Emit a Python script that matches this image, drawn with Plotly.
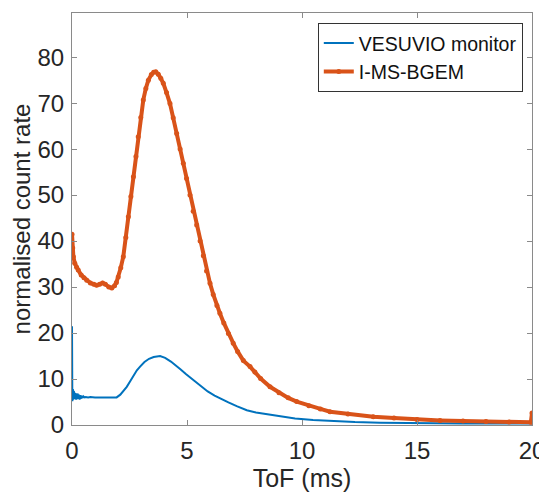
import plotly.graph_objects as go

# I-MS-BGEM (orange)
tof_bgem = [0.0, 0.03, 0.06, 0.12, 0.2, 0.27, 0.4, 0.52, 0.64, 0.8, 0.95, 1.07, 1.2, 1.33, 1.45,
            1.6, 1.73, 1.85, 1.93, 2.01, 2.12, 2.23, 2.34, 2.45, 2.56, 2.67, 2.78, 2.88, 2.99,
            3.1, 3.21, 3.32, 3.45, 3.55, 3.64, 3.75, 3.86, 3.97, 4.11, 4.26, 4.4, 4.55, 4.7,
            4.84, 4.98, 5.13, 5.27, 5.42, 5.57, 5.71, 5.85, 6.0, 6.14, 6.3, 6.43, 6.6, 6.8,
            7.01, 7.2, 7.45, 7.74, 7.95, 8.2, 8.61, 9.0, 9.4, 9.77, 10.3, 10.8, 11.22, 12.0,
            13.1, 14.0, 15.0, 16.0, 17.0, 18.0, 19.0, 19.95, 20.0]
rate_bgem = [41.5, 38.5, 36.6, 35.2, 34.3, 33.7, 32.6, 32.0, 31.5, 30.9, 30.6, 30.4, 30.6, 30.9, 30.6,
             30.0, 29.8, 30.3, 31.0, 32.2, 34.2, 36.6, 40.8, 45.3, 49.7, 54.0, 58.4, 62.7, 66.9,
             70.7, 73.2, 75.0, 76.2, 76.7, 76.8, 76.3, 75.4, 74.3, 72.3, 69.9, 66.8, 63.4, 60.0,
             56.9, 53.6, 50.0, 46.5, 43.5, 40.0, 36.8, 33.5, 30.8, 28.4, 26.0, 24.3, 22.2, 19.9,
             17.8, 16.0, 14.0, 12.7, 11.5, 10.1, 8.3, 7.0, 5.9, 5.1, 4.2, 3.5, 2.9, 2.4,
             1.8, 1.5, 1.2, 1.0, 0.85, 0.75, 0.65, 0.6, 2.6]

# VESUVIO monitor (blue)
tof_mon = [0.0, 0.005, 0.01, 0.015, 0.02, 0.03, 0.04, 0.05, 0.06, 0.07, 0.08, 0.09, 0.1, 0.115,
           0.13, 0.145, 0.16, 0.18, 0.2, 0.22, 0.25, 0.28, 0.3, 0.33, 0.35, 0.38, 0.4, 0.43,
           0.45, 0.48, 0.5, 0.55, 0.6, 0.7, 0.8, 1.0, 1.3, 1.6, 1.94, 2.1, 2.25, 2.38, 2.53,
           2.68, 2.82, 2.96, 3.15, 3.35, 3.55, 3.83, 4.05, 4.3, 4.5, 4.7, 4.95, 5.25, 5.57,
           5.9, 6.2, 6.43, 6.8, 7.16, 7.6, 8.0, 8.5, 9.04, 9.7, 10.48, 11.3, 12.3, 13.4, 14.5,
           15.5, 17.0, 18.5, 20.0]
rate_mon = [21.5, 6.0, 8.5, 5.2, 8.0, 5.8, 7.8, 5.6, 7.6, 5.8, 7.4, 5.9, 7.2, 5.7,
            7.0, 5.6, 6.9, 5.5, 6.9, 5.6, 6.8, 5.7, 6.6, 5.5, 6.5, 5.7, 6.4, 5.8,
            6.3, 5.9, 6.2, 6.0, 6.1, 6.0, 6.1, 6.0, 6.0, 6.0, 6.0, 6.6, 7.4, 8.3, 9.5,
            10.8, 11.9, 12.7, 13.7, 14.4, 14.8, 15.0, 14.6, 13.8, 12.9, 12.2, 11.1, 9.9, 8.5,
            7.3, 6.4, 5.8, 4.9, 4.1, 3.2, 2.7, 2.3, 1.8, 1.4, 1.1, 0.85, 0.65, 0.5, 0.42,
            0.38, 0.33, 0.3, 0.3]

x_ticks = [0, 5, 10, 15, 20]
y_ticks = [0, 10, 20, 30, 40, 50, 60, 70, 80]

BLUE = "#0072BD"
ORANGE = "#D95319"
TXT = "#262626"
AX = "#8a8a8a"
FONT = "Liberation Sans, Arial, sans-serif"

fig = go.Figure()
fig.add_trace(go.Scatter(x=tof_mon, y=rate_mon, mode="lines", name="VESUVIO monitor",
                         line=dict(color=BLUE, width=2)))
fig.add_trace(go.Scatter(x=tof_bgem, y=rate_bgem, mode="lines+markers", name="I-MS-BGEM",
                         line=dict(color=ORANGE, width=4),
                         marker=dict(color=ORANGE, size=5)))

axis_common = dict(showline=True, linecolor=AX, linewidth=1, mirror="ticks",
                   ticks="inside", ticklen=5, tickcolor=AX, showgrid=False, zeroline=False,
                   automargin=False,
                   tickfont=dict(size=24, color=TXT, family=FONT))

# the page body adds an 8 px offset at top/left, so the figure is 8 px smaller
fig.update_layout(
    width=539, height=484,
    margin=dict(l=64, r=15, t=5, b=67),
    paper_bgcolor="white", plot_bgcolor="white",
    font=dict(family=FONT, color=TXT),
    xaxis=dict(range=[0, 20], tickvals=x_ticks, ticktext=[str(v) for v in x_ticks],
               title=dict(text="ToF (ms)", font=dict(size=25, color=TXT), standoff=8),
               ticklabelstandoff=4,
               **axis_common),
    yaxis=dict(range=[0, 89.6], tickvals=y_ticks, ticktext=[str(v) for v in y_ticks],
               title=dict(text="normalised count rate", font=dict(size=24, color=TXT), standoff=6),
               ticklabelstandoff=2,
               **axis_common),
    legend=dict(x=0.98, y=0.976, xanchor="right", yanchor="top",
                bgcolor="white", bordercolor="#333333", borderwidth=1,
                font=dict(size=19.5, color="#111111", family=FONT),
                tracegroupgap=0, itemwidth=30),
    showlegend=True,
)

fig.write_html("out.html")
